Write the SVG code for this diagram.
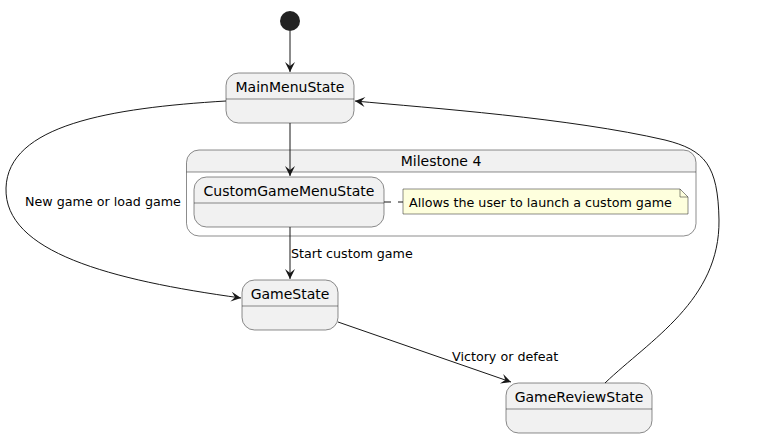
<svg xmlns="http://www.w3.org/2000/svg" width="776" height="434" viewBox="0 0 776 434">
<style>
.st{fill:#F1F1F1;stroke:#181818;stroke-width:0.5}
.dv{stroke:#181818;stroke-width:0.5}
.t{font-family:"DejaVu Sans",sans-serif;font-size:14px;fill:#000}
.l{font-family:"DejaVu Sans",sans-serif;font-size:12.7px;fill:#000}
.c{fill:none;stroke:#181818;stroke-width:1}
</style>
<defs>
<marker id="ah" markerUnits="userSpaceOnUse" markerWidth="12" markerHeight="12" refX="10" refY="4" orient="auto" overflow="visible">
<path d="M0,-1 L10,4 L0,9 L4,4 Z" fill="#181818"/>
</marker>
</defs>
<rect width="776" height="434" fill="#FFFFFF"/>
<g id="start"><circle cx="290" cy="21" r="10" fill="#222222"/></g>
<g id="MainMenuState">
<rect class="st" x="226" y="73" width="128" height="50" rx="12.5"/>
<line class="dv" x1="226" y1="99" x2="354" y2="99"/>
<text class="t" x="290" y="92" text-anchor="middle">MainMenuState</text>
</g>
<g id="Milestone4">
<rect x="186.5" y="150" width="509.5" height="86" rx="12.5" fill="#FFFFFF"/>
<path d="M186.5,172 L186.5,162.5 A12.5,12.5 0 0 1 199,150 L683.5,150 A12.5,12.5 0 0 1 696,162.5 L696,172 Z" fill="#F1F1F1"/>
<rect x="186.5" y="150" width="509.5" height="86" rx="12.5" fill="none" stroke="#181818" stroke-width="0.5"/>
<line class="dv" x1="186.5" y1="172" x2="696" y2="172"/>
<text class="t" x="441" y="166" text-anchor="middle">Milestone 4</text>
</g>
<g id="CustomGameMenuState">
<rect class="st" x="194" y="177" width="190" height="50" rx="12.5"/>
<line class="dv" x1="194" y1="203" x2="384" y2="203"/>
<text class="t" x="289" y="196" text-anchor="middle">CustomGameMenuState</text>
</g>
<g id="note">
<path d="M403,189 L680,189 L688,197 L688,214 L403,214 Z" fill="#FEFFDD" stroke="#181818" stroke-width="0.5"/>
<path d="M680,189 L680,197 L688,197" fill="none" stroke="#181818" stroke-width="0.5"/>
<text class="l" x="409" y="207">Allows the user to launch a custom game</text>
</g>
<g id="GameState">
<rect class="st" x="242" y="280" width="96" height="50" rx="12.5"/>
<line class="dv" x1="242" y1="306" x2="338" y2="306"/>
<text class="t" x="290" y="299" text-anchor="middle">GameState</text>
</g>
<g id="GameReviewState">
<rect class="st" x="506" y="383" width="146" height="50" rx="12.5"/>
<line class="dv" x1="506" y1="409" x2="652" y2="409"/>
<text class="t" x="579" y="402" text-anchor="middle">GameReviewState</text>
</g>
<g id="connectors">
<path class="c" d="M290,31 L290,72" marker-end="url(#ah)"/>
<path class="c" d="M290,123 L290,176" marker-end="url(#ah)"/>
<path class="c" d="M290,227 L290,279" marker-end="url(#ah)"/>
<path class="c" d="M226,101 C110,108 8,125 6,188 C4,252 110,280 241,298" marker-end="url(#ah)"/>
<path class="c" d="M338,322 L511,382" marker-end="url(#ah)"/>
<path class="c" d="M605,383 C650,340 720,300 719,220 C718,165 705,150 665,140 C570,118 430,108 355,101" marker-end="url(#ah)"/>
<path d="M384,202 L403,202" fill="none" stroke="#181818" stroke-width="1" stroke-dasharray="7,7"/>
<text class="l" x="25" y="206">New game or load game</text>
<text class="l" x="291" y="258">Start custom game</text>
<text class="l" x="452" y="361">Victory or defeat</text>
</g>
</svg>
